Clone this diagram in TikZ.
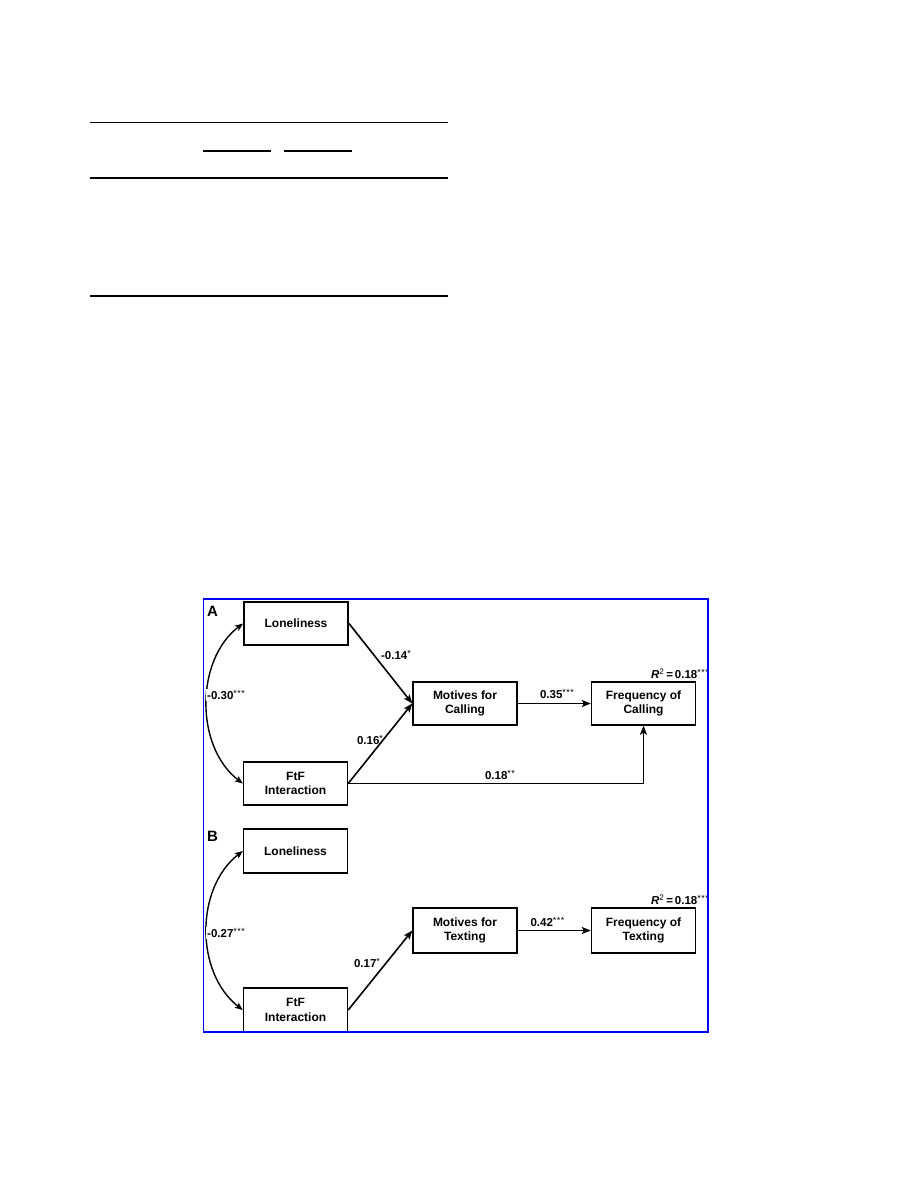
\documentclass[tikz,border=0pt]{standalone}
\usepackage{fontspec}
\setmainfont{Liberation Sans}
\usetikzlibrary{arrows.meta}
\definecolor{frameblue}{RGB}{0,0,240}
\newcommand{\stone}{\raisebox{0.6ex}{\fontsize{9}{9}\selectfont\mdseries *}}
\newcommand{\sttwo}{\raisebox{0.6ex}{\fontsize{9}{9}\selectfont\mdseries *\kern0.5pt*}}
\newcommand{\stthree}{\raisebox{0.6ex}{\fontsize{9}{9}\selectfont\mdseries *\kern0.5pt*\kern0.5pt*}}
\begin{document}
\begin{tikzpicture}[x=1pt,y=-1pt,
  box/.style={draw, line width=1.4pt, minimum width=104pt, minimum height=43pt,
    inner sep=0pt, align=center, font=\fontsize{12}{14.5}\selectfont\bfseries},
  coef/.style={font=\fontsize{11.5}{13}\selectfont\bfseries, inner sep=1pt},
  panel/.style={font=\fontsize{15}{15}\selectfont\bfseries, inner sep=0pt},
  arr/.style={-{Stealth[length=9pt,width=7pt,inset=2pt]}, line width=1.6pt},
  darr/.style={{Stealth[length=8pt,width=6.5pt,inset=2pt]}-{Stealth[length=8pt,width=6.5pt,inset=2pt]}, line width=1.4pt},
  rule/.style={line width=1.1pt}
]
\useasboundingbox (0,0) rectangle (918,1188);

% table rules
\draw[rule] (90,122.5) -- (448,122.5);
\draw[rule] (203,151) -- (271,151);
\draw[rule] (284,151) -- (352,151);
\draw[rule] (90,178) -- (448,178);
\draw[rule] (90,296) -- (448,296);

% ---------- Panel A ----------
\node[panel] (pA) at (212.5,611) {A};
\node[box, line width=2pt] (lonA) at (296,623.5) {Loneliness};
\node[box] (ftfA) at (295.5,783.5) {FtF\\Interaction};
\node[box] (motA) at (465,703.5) {Motives for\\Calling};
\node[box] (freqA) at (643.5,703.5) {Frequency of\\Calling};

\draw[arr] (lonA.east) -- (motA.west);
\draw[arr] (ftfA.east) -- (motA.west);
\draw[arr] (motA.east) -- (freqA.west);
\draw[arr] (ftfA.east) -| (freqA.south);
\draw[darr] (lonA.west) .. controls (195,660) and (195,747) .. (ftfA.west);

\node[coef] (cAlon) at (396,655) {-0.14\stone};
\node[coef] (cAftf) at (370,740) {0.16\stone};
\node[coef] (cAmf) at (557,694) {0.35\stthree};
\node[coef] (cAff) at (500,775) {0.18\sttwo};
\node[coef, fill=white, anchor=west] (cAcor) at (206,695) {-0.30\stthree};
\node[coef, anchor=east] (rA) at (710,674) {\textit{R}\textsuperscript{\mdseries 2}\,=\,0.18\stthree};

% ---------- Panel B ----------
\node[panel] (pB) at (212.5,836) {B};
\node[box, minimum height=44pt] (lonB) at (295.5,851) {Loneliness};
\node[box, minimum height=44pt] (ftfB) at (295.5,1010) {FtF\\Interaction};
\node[box, minimum height=45pt] (motB) at (465,930.5) {Motives for\\Texting};
\node[box, minimum height=45pt] (freqB) at (643.5,930.5) {Frequency of\\Texting};

\draw[arr] (ftfB.east) -- (motB.west);
\draw[arr] (motB.east) -- (freqB.west);
\draw[darr] (lonB.west) .. controls (195,888) and (195,973) .. (ftfB.west);

\node[coef] (cBftf) at (367,963) {0.17\stone};
\node[coef] (cBmf) at (547.5,922) {0.42\stthree};
\node[coef, fill=white, anchor=west] (cBcor) at (206,933) {-0.27\stthree};
\node[coef, anchor=east] (rB) at (710,900) {\textit{R}\textsuperscript{\mdseries 2}\,=\,0.18\stthree};

% frame
\draw[frameblue, line width=1.2pt] (708,599) -- (203.5,599) -- (203.5,1032);
\draw[frameblue, line width=2.2pt] (708,598.4) -- (708,1032) -- (202.9,1032);
\end{tikzpicture}
\end{document}
